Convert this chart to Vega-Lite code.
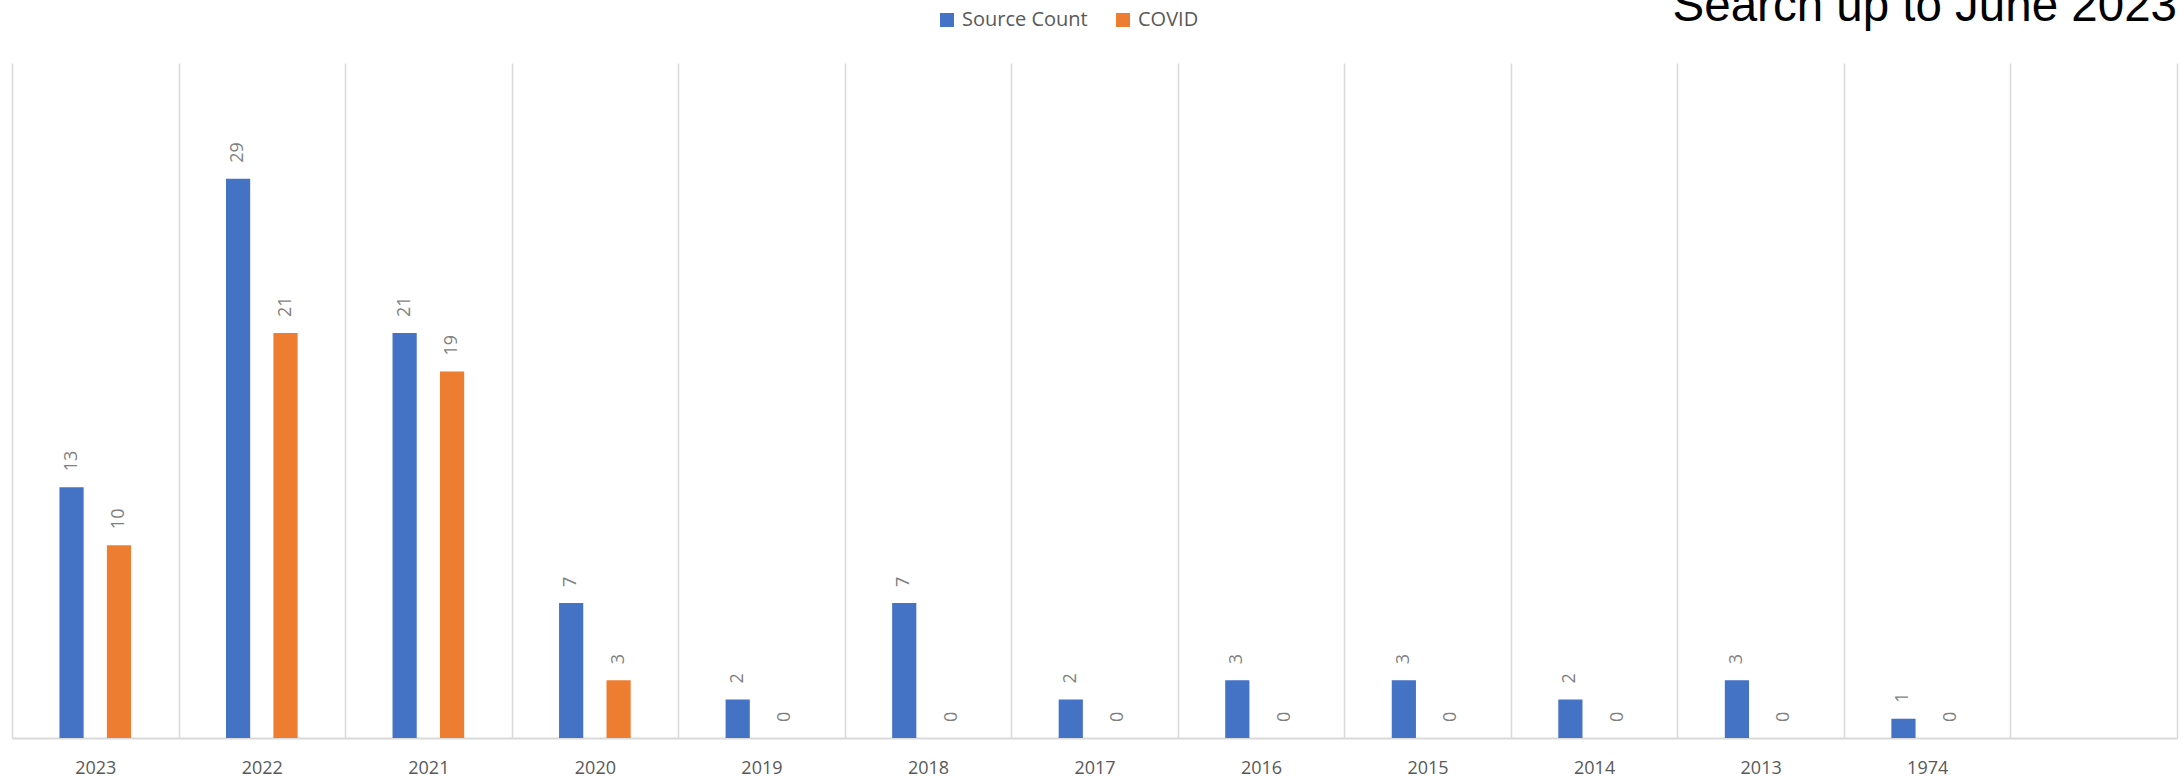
{
  "$schema": "https://vega.github.io/schema/vega-lite/v6.json",
  "autosize": "none",
  "width": 2165,
  "height": 675,
  "padding": {"left": 12, "top": 63, "right": 7, "bottom": 42},
  "background": "white",
  "title": {
    "text": "Search up to June 2023",
    "anchor": "end",
    "frame": "group",
    "orient": "top",
    "font": "Liberation Sans",
    "fontSize": 47.5,
    "fontWeight": "normal",
    "color": "#000000",
    "baseline": "alphabetic",
    "offset": -58
  },
  "data": {
    "values": [
      {"year": "2023", "series": "Source Count", "value": 13},
      {"year": "2023", "series": "COVID", "value": 10},
      {"year": "2022", "series": "Source Count", "value": 29},
      {"year": "2022", "series": "COVID", "value": 21},
      {"year": "2021", "series": "Source Count", "value": 21},
      {"year": "2021", "series": "COVID", "value": 19},
      {"year": "2020", "series": "Source Count", "value": 7},
      {"year": "2020", "series": "COVID", "value": 3},
      {"year": "2019", "series": "Source Count", "value": 2},
      {"year": "2019", "series": "COVID", "value": 0},
      {"year": "2018", "series": "Source Count", "value": 7},
      {"year": "2018", "series": "COVID", "value": 0},
      {"year": "2017", "series": "Source Count", "value": 2},
      {"year": "2017", "series": "COVID", "value": 0},
      {"year": "2016", "series": "Source Count", "value": 3},
      {"year": "2016", "series": "COVID", "value": 0},
      {"year": "2015", "series": "Source Count", "value": 3},
      {"year": "2015", "series": "COVID", "value": 0},
      {"year": "2014", "series": "Source Count", "value": 2},
      {"year": "2014", "series": "COVID", "value": 0},
      {"year": "2013", "series": "Source Count", "value": 3},
      {"year": "2013", "series": "COVID", "value": 0},
      {"year": "1974", "series": "Source Count", "value": 1},
      {"year": "1974", "series": "COVID", "value": 0}
    ]
  },
  "encoding": {
    "x": {
      "field": "year",
      "type": "nominal",
      "title": null,
      "scale": {
        "domain": ["2023", "2022", "2021", "2020", "2019", "2018", "2017", "2016", "2015", "2014", "2013", "1974", " "],
        "paddingInner": 0,
        "paddingOuter": 0
      },
      "axis": {
        "labelAngle": 0,
        "tickBand": "extent",
        "grid": true,
        "gridColor": "#D9D9D9",
        "gridWidth": 1.5,
        "ticks": false,
        "tickSize": 0,
        "domainColor": "#D9D9D9",
        "domainWidth": 2,
        "labelFont": "Open Sans",
        "labelFontSize": 18,
        "labelColor": "#595959",
        "labelPadding": 21
      }
    },
    "xOffset": {
      "field": "series",
      "type": "nominal",
      "scale": {"domain": ["Source Count", "COVID"], "paddingInner": 0.49, "paddingOuter": 1.17}
    },
    "y": {
      "field": "value",
      "type": "quantitative",
      "scale": {"domain": [0, 35], "nice": false},
      "axis": null
    }
  },
  "layer": [
    {
      "mark": {"type": "bar"},
      "encoding": {
        "color": {
          "field": "series",
          "type": "nominal",
          "scale": {"domain": ["Source Count", "COVID"], "range": ["#4472C4", "#ED7D31"]},
          "legend": {
            "title": null,
            "orient": "none",
            "direction": "horizontal",
            "legendX": 925,
            "legendY": -53,
            "padding": 0,
            "symbolType": "square",
            "symbolSize": 196,
            "symbolStrokeWidth": 0,
            "symbolOpacity": 1,
            "labelFont": "Open Sans",
            "labelFontSize": 20,
            "labelColor": "#595959",
            "labelOffset": 5,
            "columnPadding": 25
          }
        }
      }
    },
    {
      "mark": {
        "type": "text",
        "angle": 270,
        "align": "left",
        "baseline": "middle",
        "dx": 16,
        "font": "Open Sans",
        "fontSize": 18,
        "color": "#7F7F7F"
      },
      "encoding": {
        "text": {"field": "value", "type": "quantitative"}
      }
    }
  ],
  "config": {
    "view": {"stroke": null}
  }
}
